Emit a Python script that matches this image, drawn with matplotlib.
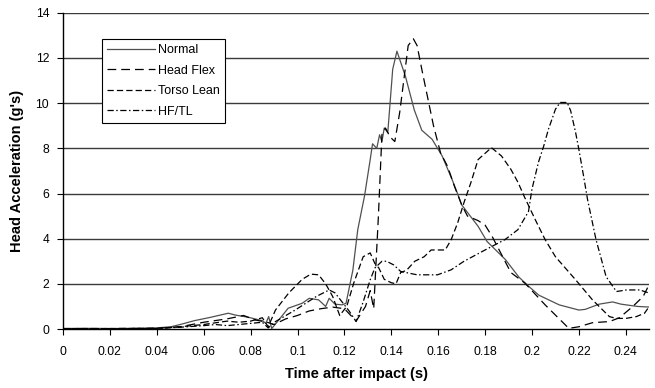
import matplotlib
matplotlib.use("Agg")
import matplotlib.pyplot as plt
import numpy as np

plt.rcParams['font.family'] = ['Liberation Sans', 'DejaVu Sans']

# Normal
t_normal = [0, 0.01, 0.02, 0.03, 0.04, 0.046, 0.05, 0.056, 0.063, 0.0705, 0.0734, 0.079, 0.085,
            0.0865, 0.0877, 0.089, 0.092, 0.096, 0.102, 0.105, 0.109, 0.112, 0.1135, 0.116, 0.119,
            0.1207, 0.1236, 0.1257, 0.1286, 0.131, 0.132, 0.1338, 0.135, 0.136, 0.137, 0.1385,
            0.1406, 0.1424, 0.146, 0.1498, 0.153, 0.1574, 0.1617, 0.166, 0.1686, 0.170, 0.177,
            0.1808, 0.1887, 0.1944, 0.1987, 0.2029, 0.2116, 0.22, 0.2227, 0.2286, 0.2344, 0.238,
            0.245, 0.2505]
v_normal = [0.02, 0.03, 0.02, 0.03, 0.05, 0.1, 0.2, 0.37, 0.52, 0.7, 0.62, 0.52, 0.37,
            0.25, 0.55, 0.02, 0.4, 0.92, 1.14, 1.36, 1.29, 1.0, 1.36, 1.1, 1.07,
            1.14, 2.6, 4.4, 5.9, 7.5, 8.2, 8.0, 8.6, 8.3, 8.9, 8.7,
            11.5, 12.3, 11.2, 9.7, 8.8, 8.4, 7.66, 6.6, 5.9, 5.5, 4.55,
            3.88, 3.07, 2.3, 1.88, 1.5, 1.07, 0.84, 0.87, 1.1, 1.2, 1.1,
            1.0, 0.97]

# Head Flex
t_hf = [0, 0.02, 0.04, 0.05, 0.06, 0.07, 0.077, 0.082, 0.087, 0.09, 0.095, 0.1, 0.105, 0.11,
        0.115, 0.12, 0.125, 0.129, 0.131, 0.1325, 0.1345, 0.136, 0.1375, 0.1395, 0.1415,
        0.1436, 0.1458, 0.1472, 0.1494, 0.151, 0.1532, 0.156, 0.158, 0.1595, 0.161, 0.164,
        0.167, 0.170, 0.1725, 0.177, 0.18, 0.183, 0.188, 0.191, 0.197, 0.2056, 0.2157,
        0.22, 0.2258, 0.233, 0.2373, 0.243, 0.2474, 0.251]
v_hf = [0.02, 0.02, 0.03, 0.1, 0.3, 0.45, 0.6, 0.4, 0.3, 0.2, 0.45, 0.6, 0.8, 0.9,
        0.97, 0.9, 0.35, 1.0, 1.7, 0.9, 5.0, 8.6, 8.9, 8.5, 8.3,
        9.6, 11.4, 12.55, 12.85, 12.55, 11.4, 10.0, 9.0, 8.4, 7.8, 7.2,
        6.3, 5.5, 5.0, 4.8, 4.6, 4.1, 3.1, 2.5, 2.03, 1.07, 0.03,
        0.1, 0.28, 0.33, 0.5, 1.0, 1.44, 2.18]

# Torso Lean
t_tl = [0, 0.02, 0.04, 0.05, 0.06, 0.07, 0.075, 0.08, 0.085, 0.0875, 0.0906, 0.0963, 0.102,
        0.1057, 0.109, 0.112, 0.115, 0.118, 0.121, 0.124, 0.128, 0.131, 0.133, 0.1347, 0.137,
        0.14, 0.142, 0.144, 0.1465, 0.150, 0.154, 0.157, 0.163, 0.1655, 0.1683, 0.171, 0.174,
        0.177, 0.1827, 0.187, 0.191, 0.194, 0.197, 0.2014, 0.2056, 0.21, 0.2186, 0.2258,
        0.233, 0.236, 0.240, 0.2445, 0.248, 0.25]
v_tl = [0.02, 0.02, 0.03, 0.1, 0.2, 0.35, 0.3, 0.35, 0.5, 0.1, 0.84, 1.6, 2.2,
        2.43, 2.4, 2.0, 1.44, 0.6, 1.0, 2.04, 3.2, 3.37, 2.9, 2.7, 2.2,
        2.05, 2.0, 2.5, 2.6, 3.0, 3.2, 3.5, 3.5, 3.95, 4.7, 5.6, 6.5,
        7.5, 8.03, 7.66, 7.07, 6.5, 5.8, 4.84, 3.96, 3.2, 2.18, 1.29,
        0.55, 0.47, 0.47, 0.55, 0.7, 1.0]

# HF/TL
t_hftl = [0, 0.02, 0.04, 0.05, 0.06, 0.065, 0.07, 0.075, 0.08, 0.085, 0.0875, 0.0906, 0.099,
          0.108, 0.1135, 0.116, 0.119, 0.122, 0.125, 0.128, 0.131, 0.133, 0.136, 0.138, 0.141,
          0.144, 0.151, 0.1597, 0.1655, 0.171, 0.18, 0.1885, 0.194, 0.1985, 0.2, 0.2028,
          0.205, 0.207, 0.21, 0.212, 0.215, 0.2165, 0.2186, 0.22, 0.222, 0.2237, 0.2273,
          0.2316, 0.236, 0.2403, 0.246, 0.25]
v_hftl = [0.01, 0.01, 0.02, 0.08, 0.15, 0.2, 0.15, 0.2, 0.25, 0.3, 0.05, 0.33, 0.84,
          1.44, 1.73, 1.6, 1.2, 0.8, 0.33, 1.2, 2.18, 2.7, 3.0, 3.0, 2.84,
          2.55, 2.4, 2.4, 2.62, 3.0, 3.5, 3.96, 4.4, 5.2, 6.2, 7.4,
          8.1, 8.84, 9.73, 10.03, 10.03, 9.66, 8.7, 7.95, 6.77, 5.73, 3.96,
          2.32, 1.66, 1.73, 1.73, 1.59]

x_ticks = [0, 0.02, 0.04, 0.06, 0.08, 0.1, 0.12, 0.14, 0.16, 0.18, 0.2, 0.22, 0.24]
x_tick_labels = ["0", "0.02", "0.04", "0.06", "0.08", "0.1", "0.12", "0.14", "0.16",
                 "0.18", "0.2", "0.22", "0.24"]
y_ticks = [0, 2, 4, 6, 8, 10, 12, 14]

fig = plt.figure(figsize=(6.55, 3.88), dpi=100)
ax = fig.add_axes([0.0962, 0.152, 0.895, 0.815])

for y in y_ticks[1:]:
    ax.axhline(y, color='#3a3a3a', lw=1.0, zorder=1)

ax.plot(t_normal, v_normal, color='#505050', lw=0.9, label='Normal', zorder=3)
ax.plot(t_hf, v_hf, color='black', lw=0.9, dashes=(7, 4), label='Head Flex', zorder=3)
ax.plot(t_tl, v_tl, color='black', lw=0.9, dashes=(5, 2.5), label='Torso Lean', zorder=3)
ax.plot(t_hftl, v_hftl, color='black', lw=0.9, dashes=(5, 2, 1.2, 2), label='HF/TL', zorder=3)

ax.set_xlim(0, 0.25)
ax.set_ylim(0, 14)
ax.set_xticks(x_ticks)
ax.set_xticklabels(x_tick_labels)
ax.set_yticks(y_ticks)
ax.tick_params(axis='both', labelsize=8.7, direction='out', length=4, width=0.8, colors='black')
ax.tick_params(axis='x', pad=8)
ax.tick_params(axis='y', pad=6)

for s in ['top', 'right']:
    ax.spines[s].set_visible(False)
ax.spines['left'].set_linewidth(1.0)
ax.spines['bottom'].set_linewidth(1.0)

ax.set_xlabel('Time after impact (s)', fontsize=10.5, fontweight='bold', labelpad=7)
ax.set_ylabel("Head Acceleration (g's)", fontsize=10.5, fontweight='bold', labelpad=8)

leg = ax.legend(loc='upper left', bbox_to_anchor=(0.066, 0.917), fontsize=9,
                handlelength=3.9, handletextpad=0.2, borderpad=0.4, labelspacing=0.68,
                fancybox=False, framealpha=1, edgecolor='black', borderaxespad=0)
leg.get_frame().set_linewidth(0.8)

fig.savefig('out.png', dpi=100)
